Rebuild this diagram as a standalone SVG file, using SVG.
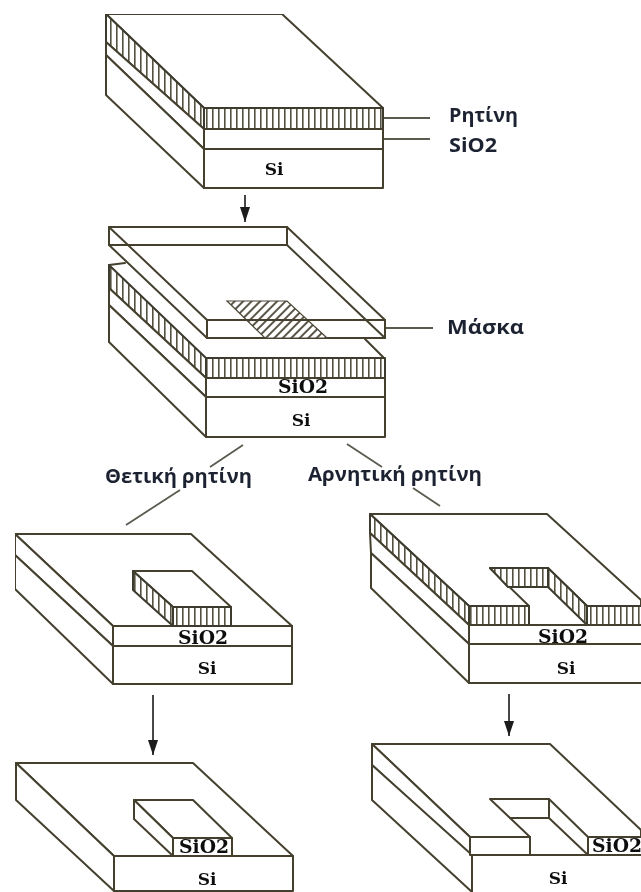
<svg xmlns="http://www.w3.org/2000/svg" width="641" height="892" viewBox="0 0 641 892">
<style>
.s{fill:#fff;stroke:#45412f;stroke-width:2;stroke-linejoin:round;stroke-linecap:round}
.n{fill:none;stroke:#45412f;stroke-width:2;stroke-linejoin:round;stroke-linecap:round}
.h{fill:url(#vh);stroke:#3d3a2e;stroke-width:2;stroke-linejoin:round}
.l{fill:none;stroke:#5a5a50;stroke-width:1.8}
.w{fill:none;stroke:#333;stroke-width:1.8}
.t{font-family:"DejaVu Serif",serif;font-weight:700;font-size:17px;fill:#111;text-anchor:middle}
.u{font-size:18px}
.g{font-family:"Open Sans","Liberation Sans",sans-serif;font-weight:700;font-size:20px;fill:#1d2430}
</style>
<defs>
<pattern id="vh" width="6" height="8" patternUnits="userSpaceOnUse"><rect width="6" height="8" fill="#fff"/><rect x="2" width="1.6" height="8" fill="#55513f"/></pattern>
<pattern id="dh" width="6" height="6" patternUnits="userSpaceOnUse" patternTransform="rotate(45)"><rect width="6" height="6" fill="#fff"/><rect width="2" height="6" fill="#5a5648"/></pattern>
<marker id="a" markerUnits="userSpaceOnUse" markerWidth="16" markerHeight="12" refX="15" refY="5" orient="auto"><path d="M0 0L15 5L0 10Z" fill="#1c1c1c"/></marker>
<filter id="b" x="0" y="0" width="100%" height="100%"><feGaussianBlur stdDeviation="0.45"/></filter>
</defs>
<g filter="url(#b)">
<g id="connectors">
<path class="w" d="M245 195V222" marker-end="url(#a)"/>
<path class="w" d="M153 695V755" marker-end="url(#a)"/>
<path class="w" d="M509 694V736" marker-end="url(#a)"/>
<path class="l" d="M243 445L210 467"/>
<path class="l" d="M180 490L126 525"/>
<path class="l" d="M347 444L382 467"/>
<path class="l" d="M413 488L440 506"/>
<path class="l" d="M383 118H430"/>
<path class="l" d="M383 139H430"/>
<path class="l" d="M385 328H433"/>
</g>
<g id="stack-resist-coated">
<path class="s" d="M106 14H282L383 108H204Z"/>
<path class="h" d="M106 14L204 108V129L106 42Z"/>
<path class="s" d="M106 42L204 129V149L106 55Z"/>
<path class="s" d="M106 55L204 149V188L106 95Z"/>
<rect class="h" x="204" y="108" width="179" height="21"/>
<rect class="s" x="204" y="129" width="179" height="20"/>
<rect class="s" x="204" y="149" width="179" height="39"/>
<text class="t" x="274" y="175">Si</text>
</g>
<g id="stack-mask-exposure">
<path class="n" d="M125 263L109 265M365 339L383 357"/>
<path class="h" d="M109 265L206 358V378L109 288Z"/>
<path class="s" d="M109 288L206 378V397L109 305Z"/>
<path class="s" d="M109 305L206 397V437L109 342Z"/>
<rect class="h" x="206" y="358" width="179" height="20"/>
<rect class="s" x="206" y="378" width="179" height="19"/>
<rect class="s" x="206" y="397" width="179" height="40"/>
<text class="t u" x="303" y="393" textLength="50" lengthAdjust="spacingAndGlyphs">SiO2</text>
<text class="t" x="301" y="426">Si</text>
<g id="mask">
<path class="s" d="M109 227H287L385 320V338H207L109 245Z"/>
<path class="n" d="M109 245H287L385 338"/>
<path d="M227 301H287L327 338H265Z" fill="url(#dh)" stroke="#4a4636" stroke-width="1.2"/>
<path class="n" d="M109 227L207 320V338M287 227V245M207 320H385"/>
</g>
</g>
<g id="stack-positive-developed">
<path class="s" d="M15 534H191L292 626H113Z"/>
<path class="s" d="M15 534L113 626V646L15 555Z"/>
<path class="s" d="M15 555L113 646V684L15 589Z"/>
<rect class="s" x="113" y="626" width="179" height="20"/>
<rect class="s" x="113" y="646" width="179" height="38"/>
<path class="s" d="M133 571H192L231 607H173Z"/>
<path class="h" d="M133 571L173 607V626L133 590Z"/>
<rect class="h" x="173" y="607" width="58" height="19"/>
<text class="t u" x="203" y="644" textLength="50" lengthAdjust="spacingAndGlyphs">SiO2</text>
<text class="t" x="207" y="674">Si</text>
</g>
<g id="stack-negative-developed">
<path class="s" d="M370 514H547L641 600V606H469Z"/>
<path class="h" d="M370 514L469 606V625L370 533Z"/>
<path class="s" d="M370 533L469 625V644L371 553Z"/>
<path class="s" d="M371 553L469 644V683L371 588Z"/>
<path class="s" d="M490 568H548L587 606V625H529V606Z"/>
<path class="h" d="M490 568H548V587H508Z"/>
<path class="h" d="M548 568L587 606V625L548 587Z"/>
<rect class="h" x="469" y="606" width="60" height="19"/>
<rect class="h" x="587" y="606" width="60" height="19"/>
<rect class="s" x="469" y="625" width="178" height="19"/>
<rect class="s" x="469" y="644" width="178" height="39"/>
<text class="t u" x="563" y="643" textLength="50" lengthAdjust="spacingAndGlyphs">SiO2</text>
<text class="t" x="566" y="674">Si</text>
</g>
<g id="stack-positive-etched">
<path class="s" d="M16 763H193L293 856H114Z"/>
<path class="s" d="M16 763L114 856V891L16 800Z"/>
<path class="s" d="M114 856H293V891H114Z"/>
<path class="s" d="M134 800H193L232 838H173Z"/>
<path class="s" d="M134 800L173 838V856L134 819Z"/>
<rect class="s" x="173" y="838" width="59" height="18"/>
<text class="t u" x="204" y="853" textLength="50" lengthAdjust="spacingAndGlyphs">SiO2</text>
<text class="t" x="207" y="885">Si</text>
</g>
<g id="stack-negative-etched">
<path class="s" d="M372 744H550L641 830V837H470Z"/>
<path class="s" d="M372 744L470 837V855L372 765Z"/>
<path class="s" d="M372 765L472 855V892L372 800Z"/>
<path class="s" d="M472 855H647V900H472Z"/>
<path class="s" d="M490 799H549L588 837V855H530V837Z"/>
<path class="n" d="M510 818H549V799M549 818L588 855"/>
<rect class="s" x="470" y="837" width="60" height="18"/>
<rect class="s" x="588" y="837" width="60" height="18"/>
<text class="t u" x="617" y="852" textLength="50" lengthAdjust="spacingAndGlyphs">SiO2</text>
<text class="t" x="558" y="884">Si</text>
</g>
<g id="labels">
<text class="g" x="449" y="122" textLength="69" lengthAdjust="spacingAndGlyphs">Ρητίνη</text>
<text class="g" x="449" y="152" textLength="48" lengthAdjust="spacingAndGlyphs">SiO2</text>
<text class="g" x="447" y="334" textLength="77" lengthAdjust="spacingAndGlyphs">Μάσκα</text>
<text class="g" x="105" y="483" textLength="147" lengthAdjust="spacingAndGlyphs">Θετική ρητίνη</text>
<text class="g" x="308" y="481" textLength="174" lengthAdjust="spacingAndGlyphs">Αρνητική ρητίνη</text>
</g>
</g>
</svg>
